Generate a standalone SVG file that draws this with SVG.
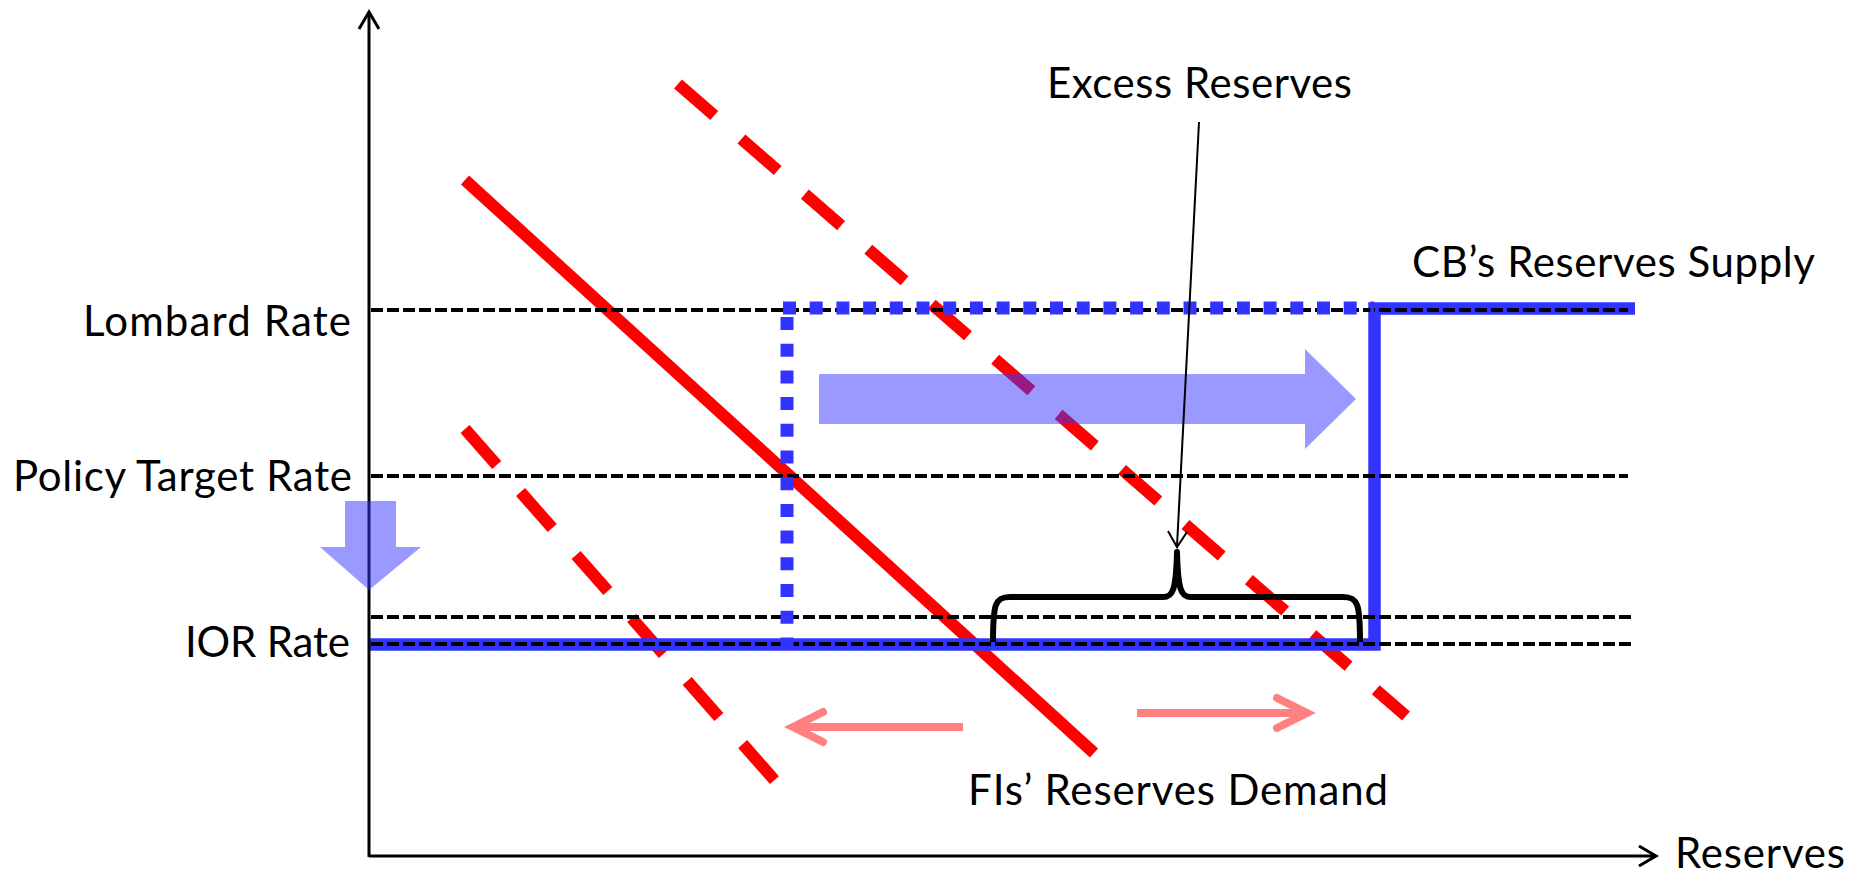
<svg xmlns="http://www.w3.org/2000/svg" width="1860" height="874" viewBox="0 0 1860 874">
  <style>
    .lbl { font-family: "Lato", "Liberation Sans", sans-serif; font-size: 42px; fill: #000; }
    .grid { fill: none; stroke: #000; stroke-width: 4; stroke-dasharray: 12 4; }
    .demand { fill: none; stroke: #FF0000; stroke-width: 12; }
    .demand-shift { fill: none; stroke: #FF0000; stroke-width: 12; stroke-dasharray: 48 36; }
    .supply { fill: none; stroke: #3333FF; stroke-width: 12.5; }
    .supply-old { fill: none; stroke: #3333FF; stroke-width: 13; stroke-dasharray: 13 13.7; }
    .axis { fill: none; stroke: #000; stroke-width: 3; }
    .shift { fill: #3333FF; fill-opacity: 0.5; }
    .move { fill: none; stroke: #FF8080; stroke-width: 8; }
    .move-head { fill: none; stroke: #FF8080; stroke-width: 8; stroke-linecap: round; stroke-linejoin: miter; }
  </style>
  <rect width="1860" height="874" fill="#FFFFFF"/>

  <!-- demand curves -->
  <g id="demand-curves">
    <line class="demand-shift" x1="678" y1="84" x2="1406" y2="716"/>
    <line class="demand-shift" x1="465" y1="429" x2="777" y2="783"/>
    <line class="demand" x1="465" y1="180" x2="1094" y2="753"/>
  </g>

  <!-- supply curve -->
  <g id="supply-curve">
    <path class="supply" d="M369,644.5 H1374.5 V308.5 H1635"/>
  </g>

  <!-- rate levels -->
  <g id="rate-levels">
    <line class="grid" x1="371" y1="310" x2="1628" y2="310"/>
    <line class="grid" x1="371" y1="476" x2="1628" y2="476"/>
    <line class="grid" x1="371" y1="617" x2="1631" y2="617"/>
    <line class="grid" x1="371" y1="644" x2="1631" y2="644"/>
  </g>

  <!-- previous supply corridor -->
  <g id="supply-previous">
    <path class="supply-old" d="M783,308 H1374"/>
    <path class="supply-old" d="M787,317 V646"/>
  </g>

  <!-- axes -->
  <g id="axes">
    <line class="axis" x1="369" y1="857" x2="369" y2="12"/>
    <polyline class="axis" points="359,29 369,12 379,29"/>
    <line class="axis" x1="369" y1="856" x2="1656" y2="856"/>
    <polyline class="axis" points="1639,846 1656,856 1639,866"/>
  </g>

  <!-- shift arrows -->
  <g id="supply-shift">
    <path class="shift" d="M819,374 H1305 V349 L1356,399 L1305,449 V424 H819 Z"/>
  </g>
  <g id="rate-cut">
    <path class="shift" d="M345,501 H396 V547 H421 L369,590 L320,547 H345 Z"/>
  </g>

  <g id="connectors">
    <!-- demand movement -->
    <line class="move" x1="963" y1="727" x2="796" y2="727"/>
    <polyline class="move-head" points="823,712 793,727 823,742"/>
    <line class="move" x1="1137" y1="713" x2="1304" y2="713"/>
    <polyline class="move-head" points="1277,698 1307,713 1277,728"/>
    <!-- excess reserves callout -->
    <line x1="1199" y1="122" x2="1177" y2="546" stroke="#000" stroke-width="2"/>
    <polyline points="1168,531 1177,547 1187,532" fill="none" stroke="#000" stroke-width="2"/>
  </g>

  <!-- excess reserves brace -->
  <g id="excess-brace">
    <path d="M993,642 C993,604 995,597 1010,597 L1163,597 C1173,597 1176,590 1177,552 C1178,590 1181,597 1191,597 L1343,597 C1358,597 1360,604 1360,642" fill="none" stroke="#000" stroke-width="6" stroke-linejoin="round"/>
  </g>

  <!-- labels -->
  <g id="label-lombard"><text class="lbl" x="351" y="336" text-anchor="end" textLength="268">Lombard Rate</text></g>
  <g id="label-policy"><text class="lbl" x="352" y="491" text-anchor="end" textLength="339">Policy Target Rate</text></g>
  <g id="label-ior"><text class="lbl" x="350" y="657" text-anchor="end" textLength="165">IOR Rate</text></g>
  <g id="label-excess"><text class="lbl" x="1047" y="98" textLength="305">Excess Reserves</text></g>
  <g id="label-supply"><text class="lbl" x="1412" y="277" textLength="403">CB’s Reserves Supply</text></g>
  <g id="label-demand"><text class="lbl" x="968" y="805" textLength="420">FIs’ Reserves Demand</text></g>
  <g id="label-reserves"><text class="lbl" x="1675" y="868" textLength="170">Reserves</text></g>
</svg>
